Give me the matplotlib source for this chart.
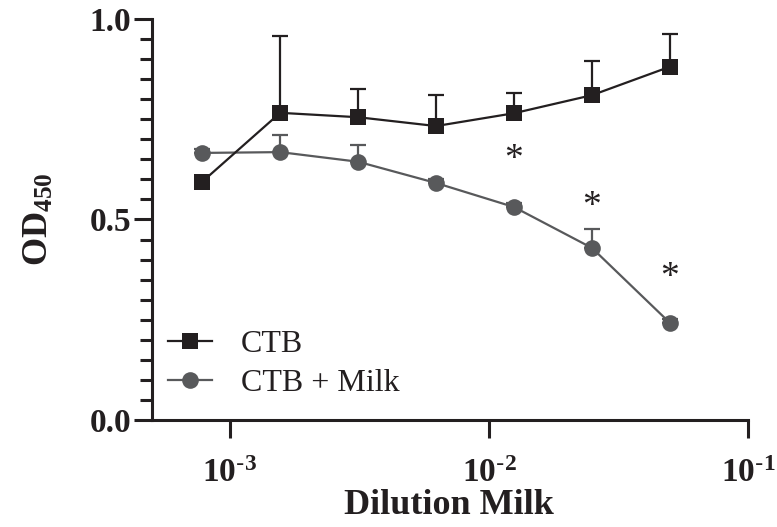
import matplotlib
matplotlib.use('Agg')
import matplotlib.pyplot as plt
import numpy as np
from matplotlib.ticker import FixedLocator, MultipleLocator, NullLocator, FixedFormatter

plt.rcParams['font.family'] = ['Liberation Serif', 'DejaVu Serif']
plt.rcParams['mathtext.default'] = 'regular'

## Data

dilution = [1 / 1280, 1 / 640, 1 / 320, 1 / 160, 1 / 80, 1 / 40, 1 / 20]
ctb = [0.594, 0.766, 0.755, 0.733, 0.765, 0.810, 0.881]
ctb_err = [0.015, 0.192, 0.070, 0.077, 0.050, 0.085, 0.081]
milk = [0.666, 0.668, 0.644, 0.591, 0.531, 0.429, 0.242]
milk_err = [0.010, 0.043, 0.042, 0.010, 0.010, 0.047, 0.010]
star_x = [1 / 80, 1 / 40, 1 / 20]
star_y = [0.650, 0.531, 0.354]
x_ticks = [1e-3, 1e-2, 1e-1]
x_tick_labels = ['10$^{\\text{-}3}$', '10$^{\\text{-}2}$', '10$^{\\text{-}1}$']

ctb_color = '#231f20'
milk_color = '#58595b'

fig = plt.figure(figsize=(7.77, 5.27), dpi=100)
ax = fig.add_axes([0.1956, 0.203, 0.767, 0.761])

## Error bars (upward only), drawn under the markers
ax.errorbar(dilution, ctb, yerr=[np.zeros(len(ctb)), ctb_err], fmt='none',
            ecolor=ctb_color, elinewidth=1.6, capsize=6, capthick=1.6, zorder=1)
ax.errorbar(dilution, milk, yerr=[np.zeros(len(milk)), milk_err], fmt='none',
            ecolor=milk_color, elinewidth=1.6, capsize=6, capthick=1.6, zorder=1)

ax.plot(dilution, ctb, color=ctb_color, lw=1.6, marker='s', ms=11.5,
        markeredgewidth=0, label='CTB', zorder=3)
ax.plot(dilution, milk, color=milk_color, lw=1.6, marker='o', ms=12,
        markeredgewidth=0, label='CTB + Milk', zorder=2)

for sx, sy in zip(star_x, star_y):
    ax.text(sx, sy, '*', ha='center', va='center', fontsize=27, color='#231f20')

## Axes
ax.set_xscale('log')
ax.set_xlim(5e-4, 1e-1)
ax.set_ylim(0, 1.0)

ax.xaxis.set_major_locator(FixedLocator(x_ticks))
ax.xaxis.set_major_formatter(FixedFormatter(x_tick_labels))
ax.xaxis.set_minor_locator(NullLocator())
ax.yaxis.set_major_locator(MultipleLocator(0.5))
ax.yaxis.set_minor_locator(MultipleLocator(0.05))
ax.yaxis.set_major_formatter(matplotlib.ticker.FormatStrFormatter('%.1f'))

for side in ['top', 'right']:
    ax.spines[side].set_visible(False)
for side in ['left', 'bottom']:
    ax.spines[side].set_linewidth(2.2)
    ax.spines[side].set_color('#231f20')

ax.tick_params(axis='both', which='both', direction='out', width=2.2, color='#231f20')
ax.tick_params(axis='y', which='major', length=13, pad=2)
ax.tick_params(axis='y', which='minor', length=9)
ax.tick_params(axis='x', which='major', length=13, pad=14)

for lab in ax.get_xticklabels() + ax.get_yticklabels():
    lab.set_fontweight('bold')
    lab.set_fontsize(24)
    lab.set_color('#231f20')

# x label placed in figure coords so it sits just above the bottom edge
fig.text(0.578, 0.024, 'Dilution Milk', ha='center', va='baseline',
         fontsize=26, fontweight='bold', color='#231f20')
ax.set_ylabel('OD$_{450}$', fontsize=26, fontweight='bold', labelpad=24, color='#231f20')

leg = ax.legend(loc='lower left', bbox_to_anchor=(-0.022, -0.016), frameon=False,
                fontsize=23, handlelength=1.4, handletextpad=0.9, labelspacing=0.3)
for t in leg.get_texts():
    t.set_color('#231f20')

fig.savefig('out.png', dpi=100)
